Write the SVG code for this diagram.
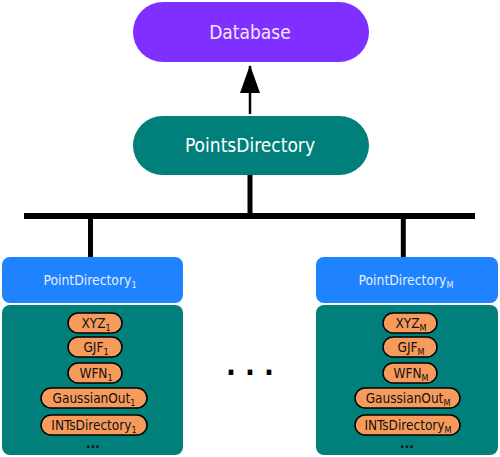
<svg xmlns="http://www.w3.org/2000/svg" width="500" height="457" viewBox="0 0 500 457">
<style>
text{font-family:"DejaVu Sans Condensed","DejaVu Sans",sans-serif;font-stretch:condensed;text-anchor:middle}
.big{font-size:19px}
.hdr{fill:#1F82FF}
.body{fill:#017F7A}
.hdrt{font-size:13.8px;fill:#E6EEFF}
.pill{fill:#F79B5C;stroke:#000;stroke-width:1.5}
.pt{font-size:13.5px;fill:#111}
.sub{font-size:9px}
.ln{stroke:#000;fill:none}
</style>
<defs>
<marker id="ah" viewBox="0 0 28 20" refX="27" refY="10" markerWidth="28" markerHeight="20" markerUnits="userSpaceOnUse" orient="auto">
<path d="M0,0 L28,10 L0,20 Z" fill="#000"/>
</marker>
</defs>
<g id="connectors">
<line class="ln" x1="250" y1="114" x2="250" y2="66" stroke-width="2.5" marker-end="url(#ah)"/>
<line class="ln" x1="250" y1="175" x2="250" y2="216" stroke-width="5"/>
<line class="ln" x1="24" y1="216" x2="475" y2="216" stroke-width="6"/>
<line class="ln" x1="90.5" y1="216" x2="90.5" y2="258" stroke-width="5"/>
<line class="ln" x1="403.3" y1="216" x2="403.3" y2="258" stroke-width="5"/>
</g>
<g id="database">
<rect x="133" y="2" width="236" height="60" rx="30" fill="#7F2FFF"/>
<text class="big" x="250" y="39" fill="#F3E6FF">Database</text>
</g>
<g id="pointsdirectory">
<rect x="133" y="116" width="236" height="59" rx="29.5" fill="#017F7A"/>
<text class="big" x="250" y="151.5" fill="#FFFFFF">PointsDirectory</text>
</g>
<g id="pointdirectory1">
<rect class="hdr" x="2" y="257" width="181" height="46" rx="8"/>
<text class="hdrt" x="90" y="285">PointDirectory<tspan class="sub" dy="3">1</tspan></text>
<rect class="body" x="2" y="305" width="181" height="150" rx="8"/>
<rect class="pill" x="68" y="313" width="54" height="20" rx="10"/>
<text class="pt" x="96" y="328">XYZ<tspan class="sub" dy="3">1</tspan></text>
<rect class="pill" x="68" y="337" width="54" height="20" rx="10"/>
<text class="pt" x="96" y="352">GJF<tspan class="sub" dy="3">1</tspan></text>
<rect class="pill" x="68" y="363" width="54" height="20" rx="10"/>
<text class="pt" x="96" y="378">WFN<tspan class="sub" dy="3">1</tspan></text>
<rect class="pill" x="41" y="388" width="106" height="20" rx="10"/>
<text class="pt" x="94" y="403">GaussianOut<tspan class="sub" dy="3">1</tspan></text>
<rect class="pill" x="41" y="415" width="106" height="20" rx="10"/>
<text class="pt" x="94" y="430">INTsDirectory<tspan class="sub" dy="3">1</tspan></text>
<text class="pt" x="93" y="448" font-weight="bold">...</text>
</g>
<g id="ellipsis">
<text x="250" y="375" font-size="29" font-weight="bold" fill="#000">. . .</text>
</g>
<g id="pointdirectoryM">
<rect class="hdr" x="316" y="257" width="182" height="46" rx="8"/>
<text class="hdrt" x="406" y="285">PointDirectory<tspan class="sub" dy="3">M</tspan></text>
<rect class="body" x="316" y="305" width="182" height="150" rx="8"/>
<rect class="pill" x="383" y="313" width="54" height="20" rx="10"/>
<text class="pt" x="411" y="328">XYZ<tspan class="sub" dy="3">M</tspan></text>
<rect class="pill" x="383" y="337" width="54" height="20" rx="10"/>
<text class="pt" x="411" y="352">GJF<tspan class="sub" dy="3">M</tspan></text>
<rect class="pill" x="383" y="363" width="54" height="20" rx="10"/>
<text class="pt" x="411" y="378">WFN<tspan class="sub" dy="3">M</tspan></text>
<rect class="pill" x="355" y="388" width="105" height="20" rx="10"/>
<text class="pt" x="408" y="403">GaussianOut<tspan class="sub" dy="3">M</tspan></text>
<rect class="pill" x="355" y="415" width="105" height="20" rx="10"/>
<text class="pt" x="408" y="430">INTsDirectory<tspan class="sub" dy="3">M</tspan></text>
<text class="pt" x="407" y="448" font-weight="bold">...</text>
</g>
</svg>
